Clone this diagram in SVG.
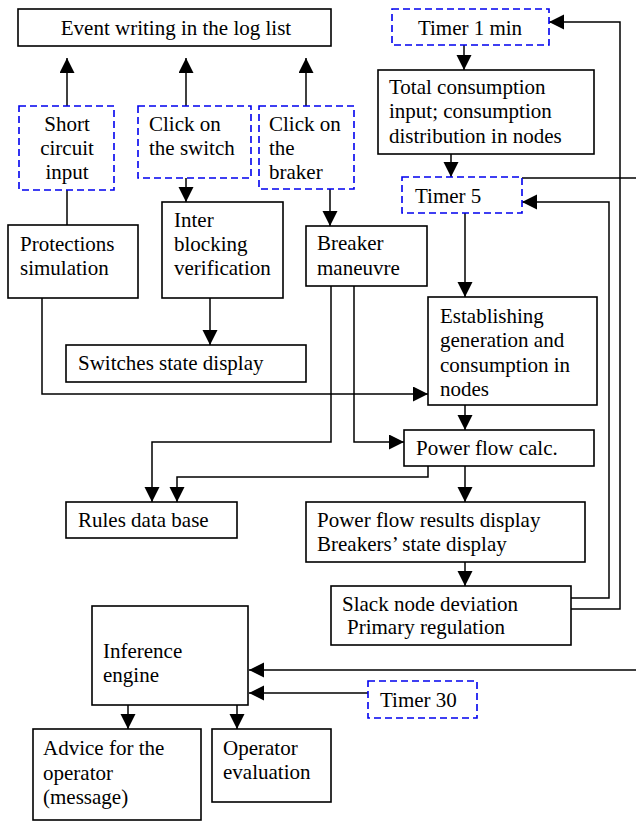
<svg xmlns="http://www.w3.org/2000/svg" width="636" height="821" viewBox="0 0 636 821">
<defs>
<marker id="ah" markerUnits="userSpaceOnUse" markerWidth="16" markerHeight="16" refX="15" refY="7.5" orient="auto">
<path d="M0,0 L15,7.5 L0,15 z" fill="#000"/>
</marker>
<style>
.b{fill:#fff;stroke:#000;stroke-width:1.6}
.d{fill:#fff;stroke:#0000ee;stroke-width:1.6;stroke-dasharray:7 4}
.t{font-family:"Liberation Serif","Times New Roman",serif;font-size:21px;fill:#000}
.c{text-anchor:middle}
.l{fill:none;stroke:#000;stroke-width:1.5}
.a{fill:none;stroke:#000;stroke-width:1.5;marker-end:url(#ah)}
</style>
</defs>
<rect width="636" height="821" fill="#fff"/>
<g id="connectors">
<path class="a" d="M67,106 V58"/>
<path class="a" d="M186,106 V58"/>
<path class="a" d="M306,106 V58"/>
<path class="l" d="M67,190 V225"/>
<path class="a" d="M186,178 V202"/>
<path class="a" d="M330,189 V226"/>
<path class="a" d="M210,298 V345"/>
<path class="a" d="M42,298 V394 H428"/>
<path class="a" d="M331,286 V442 H152 V502"/>
<path class="a" d="M354,286 V442 H404"/>
<path class="a" d="M464,45 V70"/>
<path class="a" d="M451,154 V177"/>
<path class="a" d="M465,213 V297"/>
<path class="a" d="M465,405 V430"/>
<path class="a" d="M428,466 V477 H177 V502"/>
<path class="a" d="M465,466 V502"/>
<path class="a" d="M465,562 V586"/>
<path class="a" d="M571,598 H609 V202 H522"/>
<path class="a" d="M571,609 H620 V22 H549"/>
<path class="l" d="M522,178 H636"/>
<path class="a" d="M636,670 H249"/>
<path class="a" d="M368,693 H249"/>
<path class="a" d="M128,705 V729"/>
<path class="a" d="M237,705 V729"/>
</g>
<g id="log"><rect class="b" x="18" y="9" width="313" height="37"/><text class="t c" x="176" y="35">Event writing in the log list</text></g>
<g id="shortcircuit"><rect class="d" x="19" y="106" width="95" height="84"/><text class="t c" x="67" y="131">Short</text><text class="t c" x="67" y="155">circuit</text><text class="t c" x="67" y="179">input</text></g>
<g id="clickswitch"><rect class="d" x="138" y="106" width="113" height="72"/><text class="t" x="149" y="131">Click on</text><text class="t" x="149" y="155">the switch</text></g>
<g id="clickbraker"><rect class="d" x="259" y="106" width="95" height="83"/><text class="t" x="269" y="131">Click on</text><text class="t" x="269" y="155">the</text><text class="t" x="269" y="179">braker</text></g>
<g id="timer1"><rect class="d" x="392" y="9" width="157" height="36"/><text class="t c" x="470" y="35">Timer 1 min</text></g>
<g id="total"><rect class="b" x="378" y="70" width="216" height="84"/><text class="t" x="389" y="94">Total consumption</text><text class="t" x="389" y="118">input; consumption</text><text class="t" x="389" y="143">distribution in nodes</text></g>
<g id="timer5"><rect class="d" x="402" y="177" width="120" height="36"/><text class="t" x="415" y="203">Timer 5</text></g>
<g id="protections"><rect class="b" x="8" y="225" width="130" height="73"/><text class="t" x="20" y="251">Protections</text><text class="t" x="20" y="275">simulation</text></g>
<g id="interblocking"><rect class="b" x="162" y="202" width="121" height="96"/><text class="t" x="174" y="227">Inter</text><text class="t" x="174" y="251">blocking</text><text class="t" x="174" y="275">verification</text></g>
<g id="breaker"><rect class="b" x="306" y="226" width="121" height="60"/><text class="t" x="317" y="250">Breaker</text><text class="t" x="317" y="275">maneuvre</text></g>
<g id="switches"><rect class="b" x="66" y="345" width="240" height="37"/><text class="t" x="78" y="370">Switches state display</text></g>
<g id="establishing"><rect class="b" x="428" y="297" width="169" height="108"/><text class="t" x="440" y="323">Establishing</text><text class="t" x="440" y="347">generation and</text><text class="t" x="440" y="372">consumption in</text><text class="t" x="440" y="396">nodes</text></g>
<g id="powerflow"><rect class="b" x="404" y="430" width="190" height="36"/><text class="t" x="416" y="455">Power flow calc.</text></g>
<g id="rules"><rect class="b" x="66" y="502" width="171" height="36"/><text class="t" x="78" y="527">Rules data base</text></g>
<g id="results"><rect class="b" x="306" y="502" width="279" height="60"/><text class="t" x="317" y="527">Power flow results display</text><text class="t" x="317" y="551">Breakers’ state display</text></g>
<g id="slack"><rect class="b" x="331" y="586" width="240" height="59"/><text class="t" x="342" y="611">Slack node deviation</text><text class="t" x="347" y="634">Primary regulation</text></g>
<g id="inference"><rect class="b" x="92" y="606" width="156" height="99"/><text class="t" x="103" y="658">Inference</text><text class="t" x="103" y="682">engine</text></g>
<g id="timer30"><rect class="d" x="368" y="681" width="109" height="37"/><text class="t" x="380" y="707">Timer 30</text></g>
<g id="advice"><rect class="b" x="33" y="729" width="168" height="91"/><text class="t" x="43" y="755">Advice for the</text><text class="t" x="43" y="780">operator</text><text class="t" x="43" y="804">(message)</text></g>
<g id="operator"><rect class="b" x="212" y="729" width="119" height="73"/><text class="t" x="223" y="755">Operator</text><text class="t" x="223" y="779">evaluation</text></g>
</svg>
